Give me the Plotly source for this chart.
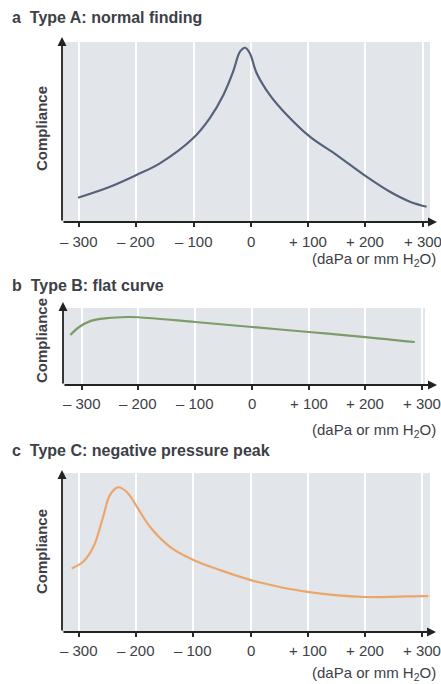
import plotly.graph_objects as go

W, H = 441, 684

# ---- data (pressure in daPa, compliance in relative units) ----
a_pressure = [-302, -246, -200, -159, -101, -72, -48, -31, -19, -10, -2, 10, 33, 63, 103, 150, 202, 243, 278, 307]
a_compliance = [0.135, 0.196, 0.261, 0.326, 0.465, 0.576, 0.706, 0.835, 0.946, 0.968, 0.939, 0.828, 0.706,
                0.594, 0.474, 0.372, 0.252, 0.168, 0.113, 0.085]

b_pressure = [-320, -305, -285, -255, -220, -200, -100, 0, 100, 200, 287]
b_compliance = [0.65, 0.75, 0.83, 0.868, 0.883, 0.88, 0.818, 0.753, 0.688, 0.623, 0.558]

c_pressure = [-313, -293, -275, -258, -246, -232, -217, -199, -176, -141, -100, -54, 11, 99, 199, 300, 311]
c_compliance = [0.40, 0.442, 0.536, 0.725, 0.862, 0.91, 0.882, 0.788, 0.662, 0.536, 0.453, 0.39, 0.316, 0.252, 0.22,
                0.226, 0.226]

tick_vals = [-300, -200, -100, 0, 100, 200, 300]
tick_text = ["– 300", "– 200", "– 100", "0", "+ 100", "+ 200", "+ 300"]

titles = ["a  Type A: normal finding", "b  Type B: flat curve", "c  Type C: negative pressure peak"]
y_label = "Compliance"
unit_label = "(daPa or mm H<sub>2</sub>O)"

# ---- layout in pixels ----
panels = [
    dict(x=a_pressure, y=a_compliance, color="#56627a", px=(62, 430), py=(42, 222), xr=[-330, 313],
         title_y=18, arrow_x=437, arrow_y=37, tick_y=241, unit_y=259, lab_y=129),
    dict(x=b_pressure, y=b_compliance, color="#7c9c68", px=(63, 425), py=(308, 385), xr=[-333, 305],
         title_y=285, arrow_x=437, arrow_y=302, tick_y=403, unit_y=430, lab_y=341),
    dict(x=c_pressure, y=c_compliance, color="#eba66c", px=(62, 430), py=(473, 632), xr=[-330, 314],
         title_y=450, arrow_x=436, arrow_y=470, tick_y=650, unit_y=673, lab_y=552),
]

FONT = "Liberation Sans, Arial, sans-serif"
TXT = "#3d4046"

fig = go.Figure()
layout = dict(
    width=W, height=H, margin=dict(l=0, r=0, t=0, b=0),
    paper_bgcolor="white", plot_bgcolor="#e2e6ea",
    showlegend=False, font=dict(family=FONT, color=TXT),
)
annotations = []


def px2x(v):
    return v / W


def py2y(v):
    return 1 - v / H


for i, p in enumerate(panels):
    n = "" if i == 0 else str(i + 1)
    xa, ya = "xaxis" + n, "yaxis" + n
    fig.add_trace(go.Scatter(
        x=p["x"], y=p["y"], mode="lines", xaxis="x" + n, yaxis="y" + n,
        line=dict(color=p["color"], width=2.2, shape="spline", smoothing=1.0),
        hoverinfo="skip",
    ))
    layout[xa] = dict(
        domain=[px2x(p["px"][0]), px2x(p["px"][1])], range=p["xr"], anchor="y" + n,
        tickvals=tick_vals, ticktext=tick_text, ticks="outside", ticklen=4, tickwidth=1.6,
        tickcolor="#2a2a2a", showgrid=True, gridcolor="white", gridwidth=1.5,
        zeroline=False, showline=False, showticklabels=False, fixedrange=True,
    )
    layout[ya] = dict(
        domain=[py2y(p["py"][1]), py2y(p["py"][0])], range=[0, 1], anchor="x" + n,
        showgrid=False, zeroline=False, showticklabels=False, showline=False, fixedrange=True,
    )
    # tick labels placed on the axis scale
    for v, t in zip(tick_vals, tick_text):
        annotations.append(dict(
            x=v, xref="x" + n, y=py2y(p["tick_y"]), yref="paper", text=t, showarrow=False,
            xanchor="center", yanchor="middle", font=dict(size=15, color=TXT, family=FONT),
        ))
    # axis arrows
    x0, y0 = p["px"][0], p["py"][1]
    annotations.append(dict(
        x=px2x(p["arrow_x"]), y=py2y(y0), xref="paper", yref="paper",
        ax=-(p["arrow_x"] - x0), ay=0, axref="pixel", ayref="pixel", text="",
        showarrow=True, arrowhead=2, arrowsize=1.0, arrowwidth=1.8, arrowcolor="#222",
    ))
    annotations.append(dict(
        x=px2x(x0), y=py2y(p["arrow_y"]), xref="paper", yref="paper",
        ax=0, ay=(y0 - p["arrow_y"]), axref="pixel", ayref="pixel", text="",
        showarrow=True, arrowhead=2, arrowsize=1.0, arrowwidth=1.8, arrowcolor="#222",
    ))
    # panel title
    annotations.append(dict(
        x=px2x(10), y=py2y(p["title_y"]), xref="paper", yref="paper", text="<b>" + titles[i] + "</b>",
        showarrow=False, xanchor="left", yanchor="middle", font=dict(size=16, color=TXT, family=FONT),
    ))
    # y label
    annotations.append(dict(
        x=px2x(41), y=py2y(p["lab_y"]), xref="paper", yref="paper", text="<b>" + y_label + "</b>",
        showarrow=False, textangle=-90, xanchor="center", yanchor="middle",
        font=dict(size=15, color=TXT, family=FONT),
    ))
    # unit
    annotations.append(dict(
        x=px2x(438), y=py2y(p["unit_y"]), xref="paper", yref="paper", text=unit_label,
        showarrow=False, xanchor="right", yanchor="middle", font=dict(size=15, color=TXT, family=FONT),
    ))

layout["annotations"] = annotations
fig.update_layout(**layout)
fig.write_html("out.html")
